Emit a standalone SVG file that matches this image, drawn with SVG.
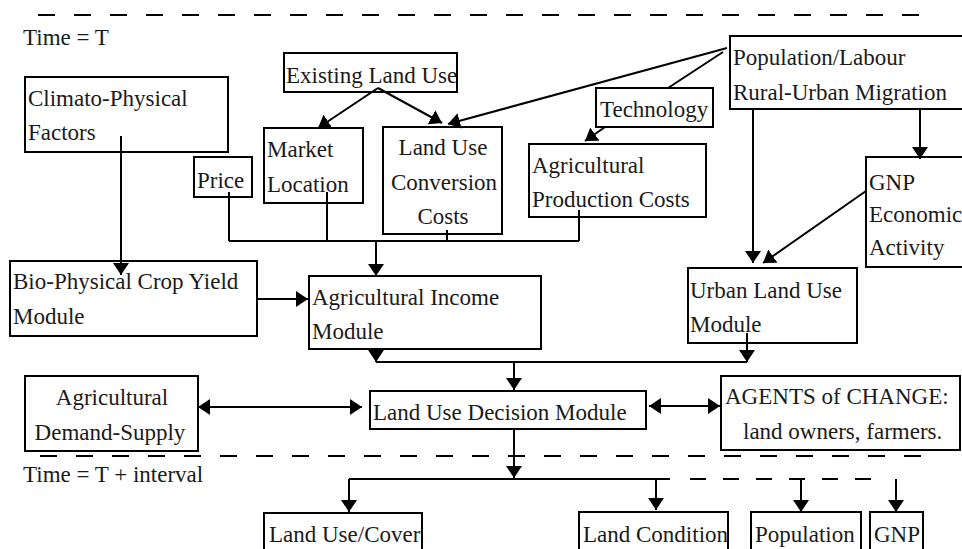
<svg xmlns="http://www.w3.org/2000/svg" width="962" height="549" viewBox="0 0 962 549">
<defs>
<style>
.box{fill:#fff;stroke:#000;stroke-width:2}
.t{font-family:"Liberation Serif","DejaVu Serif",serif;font-size:23px;fill:#1a1a1a}
.c{text-anchor:middle}
.ln{fill:none;stroke:#000;stroke-width:2}
.ar{marker-end:url(#ah)}
.da{fill:none;stroke:#000;stroke-width:2;stroke-dasharray:17 19}
</style>
<marker id="ah" viewBox="0 0 12 16" refX="12" refY="8" markerWidth="12" markerHeight="16" orient="auto-start-reverse" markerUnits="userSpaceOnUse"><path d="M0,0 L12,8 L0,16 z" fill="#000"/></marker>
</defs>
<rect width="962" height="549" fill="#fff"/>
<g id="timelines">
<path class="da" d="M38,15 L930,15"/>
<text class="t" x="23" y="45">Time = T</text>
<path class="da" d="M40,456 L930,456"/>
<text class="t" x="23" y="482">Time = T + interval</text>
</g>
<g id="climato"><rect class="box" x="25" y="77" width="203" height="75"/><text class="t" x="28" y="106">Climato-Physical</text><text class="t" x="28" y="140">Factors</text></g>
<g id="existing"><rect class="box" x="284" y="53" width="173" height="39"/><text class="t" x="286" y="83">Existing Land Use</text></g>
<g id="price"><rect class="box" x="194" y="157" width="58" height="40"/><text class="t" x="197" y="188">Price</text></g>
<g id="market"><rect class="box" x="264" y="128" width="99" height="75"/><text class="t" x="267" y="157">Market</text><text class="t" x="267" y="192">Location</text></g>
<g id="conversion"><rect class="box" x="383" y="127" width="119" height="107"/><text class="t c" x="443" y="155">Land Use</text><text class="t c" x="444" y="190">Conversion</text><text class="t c" x="443" y="224">Costs</text></g>
<g id="technology"><rect class="box" x="596" y="88" width="117" height="39"/><text class="t" x="600" y="117">Technology</text></g>
<g id="agprod"><rect class="box" x="529" y="144" width="177" height="73"/><text class="t" x="532" y="173">Agricultural</text><text class="t" x="532" y="207">Production Costs</text></g>
<g id="population"><rect class="box" x="730" y="36" width="240" height="73"/><text class="t" x="733" y="65">Population/Labour</text><text class="t" x="733" y="100">Rural-Urban Migration</text></g>
<g id="gnp"><rect class="box" x="866" y="157" width="104" height="110"/><text class="t" x="869" y="190">GNP</text><text class="t" x="869" y="222">Economic</text><text class="t" x="869" y="255">Activity</text></g>
<g id="biophysical"><rect class="box" x="10" y="261" width="247" height="75"/><text class="t" x="13" y="289">Bio-Physical Crop Yield</text><text class="t" x="13" y="324">Module</text></g>
<g id="agincome"><rect class="box" x="309" y="276" width="232" height="73"/><text class="t" x="312" y="305">Agricultural Income</text><text class="t" x="312" y="339">Module</text></g>
<g id="urban"><rect class="box" x="688" y="268" width="169" height="75"/><text class="t" x="690" y="298">Urban Land Use</text><text class="t" x="690" y="332">Module</text></g>
<g id="demand"><rect class="box" x="25" y="376" width="173" height="75"/><text class="t c" x="112" y="405">Agricultural</text><text class="t c" x="110" y="440">Demand-Supply</text></g>
<g id="decision"><rect class="box" x="370" y="391" width="276" height="38"/><text class="t" x="373" y="420">Land Use Decision Module</text></g>
<g id="agents"><rect class="box" x="721" y="376" width="239" height="74"/><text class="t" x="725" y="404">AGENTS of CHANGE:</text><text class="t" x="743" y="439">land owners, farmers.</text></g>
<g id="landcover"><rect class="box" x="264" y="513" width="158" height="50"/><text class="t" x="269" y="542">Land Use/Cover</text></g>
<g id="landcondition"><rect class="box" x="579" y="512" width="149" height="50"/><text class="t" x="583" y="542">Land Condition</text></g>
<g id="population2"><rect class="box" x="751" y="512" width="110" height="50"/><text class="t" x="755" y="542">Population</text></g>
<g id="gnp2"><rect class="box" x="870" y="512" width="53" height="50"/><text class="t" x="874" y="542">GNP</text></g>
<g id="connectors">
<path class="ln ar" d="M378,88 L318,128"/>
<path class="ln ar" d="M378,88 L442,123"/>
<path class="ln ar" d="M727,48 L448,124"/>
<path class="ln" d="M723,52 L668,88"/>
<path class="ln ar" d="M605,127 L585,141"/>
<path class="ln" d="M229,192 L229,241 M327,192 L327,241 M447,230 L447,241 M579,210 L579,241 M229,241 L579,241"/>
<path class="ln ar" d="M376,241 L376,276"/>
<path class="ln ar" d="M121,136 L121,275"/>
<path class="ln ar" d="M257,299 L308,299"/>
<path class="ln ar" d="M753,109 L753,263"/>
<path class="ln ar" d="M920,109 L920,159"/>
<path class="ln ar" d="M866,191 L763,263"/>
<path class="ln ar" d="M376,349 L376,362"/>
<path class="ln ar" d="M747,333 L747,362"/>
<path class="ln" d="M376,362 L747,362"/>
<path class="ln ar" d="M514,362 L514,390"/>
<path class="ln ar" d="M198,407 L362,407" marker-start="url(#ah)"/>
<path class="ln ar" d="M649,406 L720,406" marker-start="url(#ah)"/>
<path class="ln ar" d="M514,429 L514,478"/>
<path class="ln" d="M349,479 L670,479"/>
<path class="da" d="M690,479 L880,479" style="stroke-dasharray:16 17"/>
<path class="ln ar" d="M349,479 L349,512"/>
<path class="ln ar" d="M656,479 L656,510"/>
<path class="ln ar" d="M801,479 L801,512"/>
<path class="ln ar" d="M896,479 L896,512"/>
</g>
</svg>
